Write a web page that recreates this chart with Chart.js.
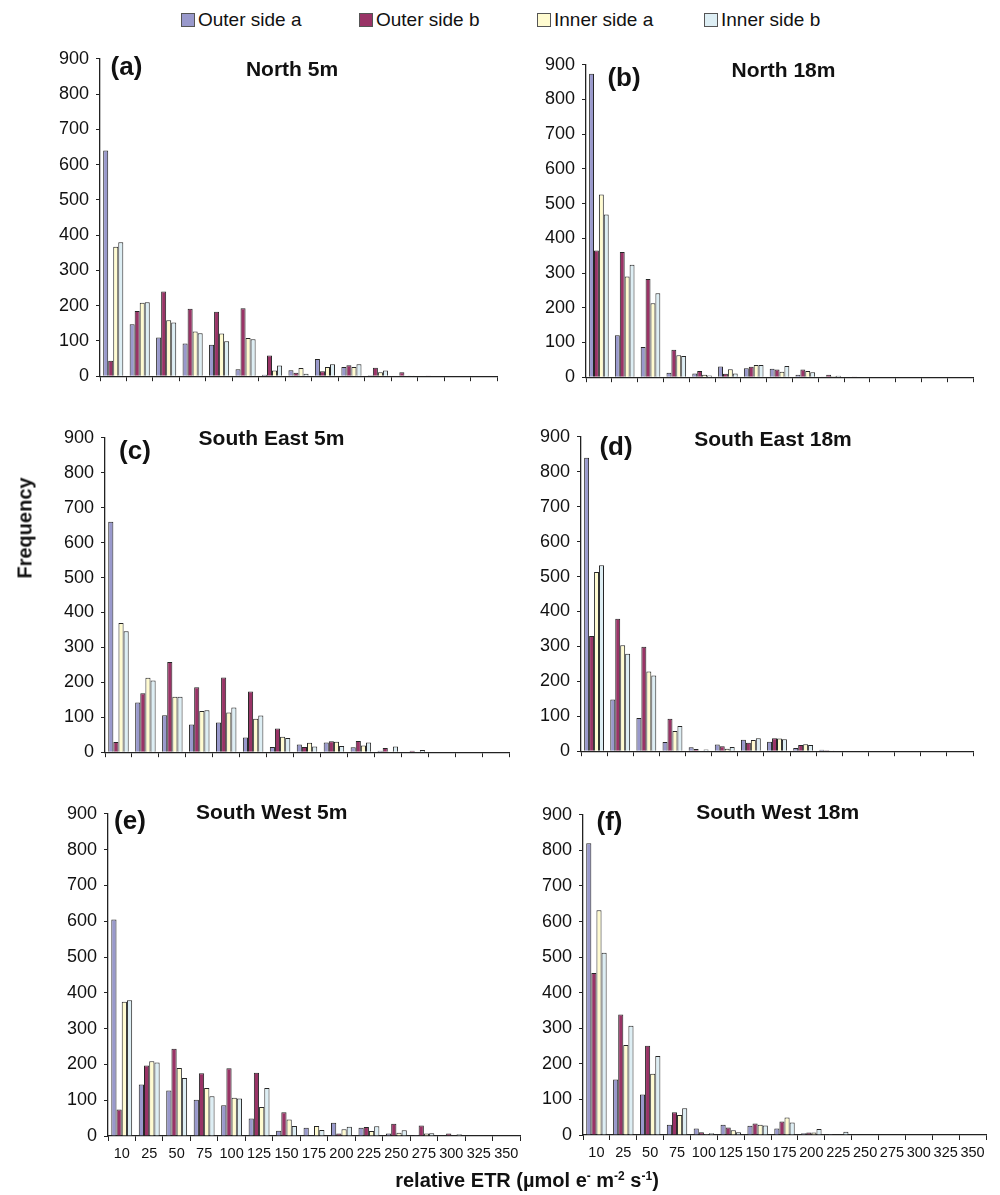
<!DOCTYPE html>
<html>
<head>
<meta charset="utf-8">
<script src="https://cdn.jsdelivr.net/npm/chart.js@4.4.1/dist/chart.umd.min.js"></script>
<style>
  html, body { margin:0; padding:0; background:#fff; }
  body { width:1000px; height:1195px; position:relative; overflow:hidden; font-family:"Liberation Sans", Arial, sans-serif; color:#111; }
  canvas { position:absolute; }
  .t { position:absolute; white-space:nowrap; transform:translate(-50%,-50%); font-weight:bold; line-height:1; }
  .ptitle { font-size:21px; }
  .ptag { font-size:26px; }
  .leg { position:absolute; top:12px; height:16px; font-size:19px; line-height:16px; white-space:nowrap; }
  .leg i { display:inline-block; width:12px; height:12px; border:1px solid #555; vertical-align:top; margin-right:3px; margin-top:1px; }
  #ytitle { position:absolute; left:25px; top:528px; transform:translate(-50%,-50%) rotate(-90deg); font-weight:bold; font-size:20px; white-space:nowrap; }
  #xtitle { position:absolute; left:527px; top:1180px; transform:translate(-50%,-50%); font-weight:bold; font-size:20px; white-space:nowrap; }
  #xtitle sup { font-size:12px; vertical-align:7px; line-height:0; }
</style>
</head>
<body>
<script>
// ---------- data ----------
const categories = ['10','25','50','75','100','125','150','175','200','225','250','275','300','325','350'];
const seriesNames = ['Outer side a','Outer side b','Inner side a','Inner side b'];
const yTicks = [0,100,200,300,400,500,600,700,800,900];

// (a) North 5m
const north5_outerA = [640,147,110,93,89,20,4,17,49,26,3,0,0,0,0];
const north5_outerB = [44,185,240,191,183,193,59,10,14,31,24,11,2,1,1];
const north5_innerA = [367,208,159,127,121,108,16,23,26,26,11,2,0,0,0];
const north5_innerB = [380,210,152,122,99,105,30,7,34,34,16,2,0,0,0];
// (b) North 18m
const north18_outerA = [874,121,87,13,11,31,26,24,7,2,0,0,0,0,0];
const north18_outerB = [365,361,283,79,18,10,30,22,22,7,2,0,0,0,0];
const north18_innerA = [526,290,213,63,7,23,35,16,18,3,0,0,0,0,0];
const north18_innerB = [469,324,242,61,5,11,35,32,14,4,0,0,0,0,0];
// (c) South East 5m
const se5_outerA = [660,142,106,79,85,42,15,22,28,14,4,0,0,0,0];
const se5_outerB = [29,169,258,186,214,174,68,15,31,32,12,4,1,0,0];
const se5_innerA = [370,213,159,118,114,96,44,27,30,19,2,0,0,0,0];
const se5_innerB = [346,205,159,120,128,105,41,16,18,28,16,6,1,0,0];
// (d) South East 18m
const se18_outerA = [840,148,95,26,11,19,33,27,9,4,0,0,0,0,0];
const se18_outerB = [330,379,299,93,6,14,24,37,18,3,1,0,0,0,0];
const se18_innerA = [513,303,228,58,1,7,32,36,20,2,0,0,0,0,0];
const se18_innerB = [532,279,217,72,5,12,37,34,18,1,0,0,0,0,0];
// (e) South West 5m
const sw5_outerA = [605,144,127,101,86,49,15,23,37,23,7,3,0,0,0];
const sw5_outerB = [74,197,244,175,189,177,66,2,7,25,34,29,7,0,0];
const sw5_innerA = [375,209,190,134,107,81,46,28,19,14,9,7,2,0,0];
const sw5_innerB = [379,205,162,111,105,134,28,17,26,27,16,8,5,1,0];
// (f) South West 18m
const sw18_outerA = [820,156,114,29,18,29,26,18,5,3,0,0,0,0,0];
const sw18_outerB = [455,339,251,64,8,21,32,38,7,1,0,0,0,0,0];
const sw18_innerA = [632,253,172,56,3,13,29,49,7,1,0,1,0,0,0];
const sw18_innerB = [512,307,222,75,5,8,27,35,17,9,0,0,0,0,0];

const panelTitles = ['North 5m','North 18m','South East 5m','South East 18m','South West 5m','South West 18m'];
const panelTags = ['(a)','(b)','(c)','(d)','(e)','(f)'];

// ---------- styling / layout ----------
const fills = ['#9999CC','#993366','#FFFBD0','#DDEEF4'];
const edge = '#262626';
const YW = 70, PT = 14, PR = 20;

const panels = [
  { data:[north5_outerA,north5_outerB,north5_innerA,north5_innerB], area:{l:100,r:497,t:55.3,b:382.7}, showX:false, title:[292,68], tag:[126.5,66] },
  { data:[north18_outerA,north18_outerB,north18_innerA,north18_innerB], area:{l:585.7,r:972.7,t:61,b:383.3}, showX:false, title:[783.5,69], tag:[624,77] },
  { data:[se5_outerA,se5_outerB,se5_innerA,se5_innerB], area:{l:105,r:508.5,t:434,b:757.7}, showX:false, title:[271.5,437], tag:[135,450] },
  { data:[se18_outerA,se18_outerB,se18_innerA,se18_innerB], area:{l:581,r:972.6,t:433.3,b:757.7}, showX:false, title:[773,438], tag:[616,446] },
  { data:[sw5_outerA,sw5_outerB,sw5_innerA,sw5_innerB], area:{l:107.7,r:520,t:810,b:1136}, showX:true, title:[271.7,811], tag:[130,820] },
  { data:[sw18_outerA,sw18_outerB,sw18_innerA,sw18_innerB], area:{l:582.7,r:986,t:810.7,b:1135}, showX:true, title:[777.7,811], tag:[609.5,821] }
];

// legend
const legX = [181, 359, 537, 704];
seriesNames.forEach((n,i)=>{
  const d = document.createElement('div');
  d.className='leg'; d.style.left = legX[i]+'px';
  d.innerHTML = '<i style="background:'+fills[i]+'"></i>'+n;
  document.body.appendChild(d);
});

panels.forEach((p,idx)=>{
  const XH = p.showX ? 45 : 12;
  const left = p.area.l - YW, top = p.area.t - PT;
  const w = p.area.r + PR - left, h = p.area.b + XH - top;
  const c = document.createElement('canvas');
  c.width = Math.round(w); c.height = Math.round(h);
  c.style.left = left+'px'; c.style.top = top+'px';
  c.style.width = Math.round(w)+'px'; c.style.height = Math.round(h)+'px';
  document.body.appendChild(c);

  new Chart(c.getContext('2d'), {
    type:'bar',
    data:{
      labels: categories,
      datasets: p.data.map((arr,i)=>({
        label: seriesNames[i], data: arr,
        backgroundColor: fills[i], borderColor: edge, borderWidth: 1,
        categoryPercentage: 0.76, barPercentage: 1.0
      }))
    },
    options:{
      responsive:false, animation:false, devicePixelRatio:1,
      layout:{ padding:{ top:PT, right:PR, left:0, bottom:0 } },
      plugins:{ legend:{display:false}, tooltip:{enabled:false}, title:{display:false} },
      scales:{
        x:{
          type:'category', offset:true,
          grid:{ offset:true, drawOnChartArea:false, drawTicks:true, tickLength:5, color:'#222', lineWidth:1 },
          border:{ display:true, color:'#222', width:1.3 },
          ticks:{ display:p.showX, autoSkip:false, maxRotation:0, minRotation:0, padding:4, color:'#111',
                  font:{ family:'"Liberation Sans", Arial, sans-serif', size:14.5 } },
          afterFit: s => { s.height = XH; }
        },
        y:{
          min:0, max:900,
          afterBuildTicks: s => { s.ticks = yTicks.map(v=>({value:v})); },
          grid:{ drawOnChartArea:false, drawTicks:true, tickLength:4, color:'#222', lineWidth:1 },
          border:{ display:true, color:'#222', width:1.3 },
          ticks:{ padding:7, color:'#111', font:{ family:'"Liberation Sans", Arial, sans-serif', size:18 } },
          afterFit: s => { s.width = YW; }
        }
      }
    }
  });

  const t = document.createElement('div');
  t.className='t ptitle'; t.textContent = panelTitles[idx];
  t.style.left = p.title[0]+'px'; t.style.top = p.title[1]+'px';
  document.body.appendChild(t);
  const g = document.createElement('div');
  g.className='t ptag'; g.textContent = panelTags[idx];
  g.style.left = p.tag[0]+'px'; g.style.top = p.tag[1]+'px';
  document.body.appendChild(g);
});
</script>
<div id="ytitle">Frequency</div>
<div id="xtitle">relative ETR (µmol e<sup>-</sup> m<sup>-2</sup> s<sup>-1</sup>)</div>
</body>
</html>
